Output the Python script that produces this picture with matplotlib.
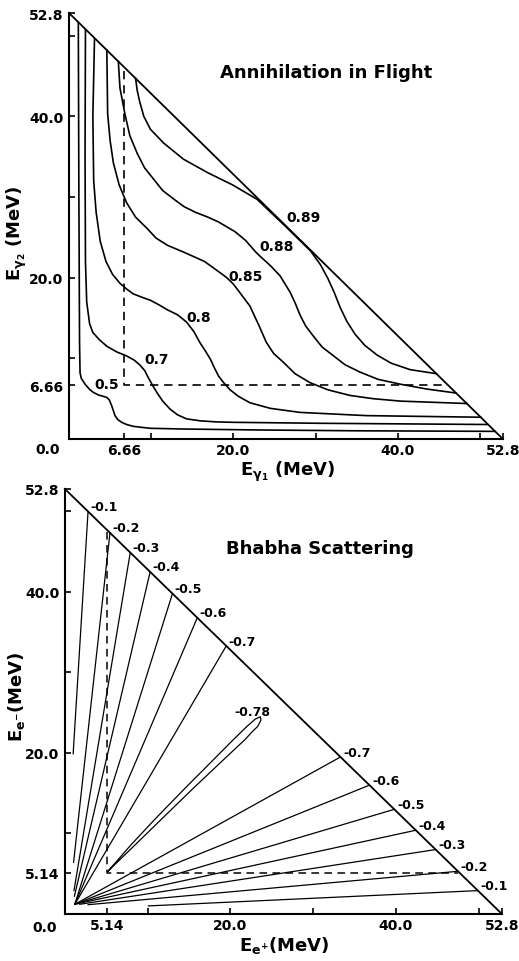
# Annihilation in flight / Bhabha scattering: energy-sharing triangles

import matplotlib.pyplot as plt

plt.rcParams['font.family'] = ['DejaVu Sans']
plt.rcParams['font.weight'] = 'bold'
plt.rcParams['mathtext.default'] = 'bf'

EMAX = 52.8  # MeV

# --- top panel: contours in (E_gamma1, E_gamma2), MeV
ann_labels = ['0.5', '0.7', '0.8', '0.85', '0.88', '0.89']
ann_x = [
    [1.13, 1.2, 1.28, 1.34, 1.5, 1.95, 2.5, 2.96, 3.6, 4.17, 4.6, 4.9, 5.19, 5.4, 5.6, 5.95,
     6.41, 7.0, 7.82, 9.85, 13.9, 23.2, 35.0, 51.8],
    [2.0, 1.95, 2.0, 2.15, 2.5, 2.9, 3.7, 4.6, 5.8, 7.0, 7.9, 8.6, 9.2, 9.7, 10.2, 10.67,
     11.4, 12.3, 13.2, 14.3, 16.0, 18.0, 20.0, 30.5, 50.9],
    [3.1, 2.9, 3.0, 3.3, 3.8, 4.5, 5.3, 6.2, 7.0, 7.8, 8.8, 9.9, 11.0, 12.0, 13.2, 14.3,
     15.2, 15.9, 16.6, 17.2, 17.7, 18.2, 18.8, 19.6, 20.6, 22.0, 24.5, 28.1, 36.2, 50.1],
    [4.6, 4.7, 5.0, 5.4, 6.1, 7.0, 8.1, 9.5, 10.6, 12.0, 14.1, 16.5, 18.4, 19.2, 20.0, 20.6,
     22.0, 23.1, 24.0, 24.9, 26.1, 27.5, 29.3, 31.5, 34.2, 37.0, 40.3, 48.4],
    [6.0, 6.2, 6.8, 7.4, 8.3, 9.2, 10.3, 11.4, 12.8, 14.0, 15.4, 16.9, 18.2, 20.2, 21.5,
     22.7, 23.2, 24.6, 25.7, 26.9, 27.5, 28.1, 28.8, 29.7, 30.8, 32.2, 33.6, 35.4, 37.6,
     40.3, 43.5, 47.1],
    [8.1, 8.3, 8.6, 9.1, 9.9, 11.5, 13.9, 16.9, 19.9, 22.9, 26.3, 29.4, 30.6, 31.5, 32.3,
     33.0, 33.8, 34.8, 36.0, 37.5, 39.2, 41.5, 44.7],
]
ann_y = [
    [51.6, 30.0, 12.0, 8.2, 7.5, 6.8, 6.15, 5.78, 5.45, 5.29, 5.15, 4.85, 4.13, 3.5, 2.89, 2.4,
     2.07, 1.8, 1.57, 1.33, 1.24, 1.12, 1.02, 0.95],
    [50.7, 35.0, 22.0, 17.0, 14.3, 13.2, 12.3, 11.5, 10.8, 10.3, 9.8, 9.2, 8.5, 7.5, 6.6, 5.8,
     4.7, 3.7, 3.0, 2.5, 2.25, 2.12, 2.07, 1.95, 1.8],
    [49.6, 40.0, 32.0, 28.1, 24.5, 22.0, 20.4, 19.3, 18.6, 18.0, 17.6, 17.2, 16.6, 16.0, 15.4,
     14.5, 13.3, 12.0, 10.9, 9.9, 8.8, 7.8, 7.0, 6.1, 5.3, 4.5, 3.8, 3.3, 2.9, 2.7],
    [48.2, 40.3, 37.0, 34.2, 31.5, 29.3, 27.5, 26.1, 24.9, 24.0, 23.1, 22.0, 20.6, 20.0, 19.2,
     18.4, 16.5, 14.1, 12.0, 10.6, 9.5, 8.1, 7.0, 6.1, 5.4, 5.0, 4.7, 4.4],
    [46.8, 43.5, 40.3, 37.6, 35.4, 33.6, 32.2, 30.8, 29.7, 28.8, 28.1, 27.5, 26.9, 25.7, 24.6,
     23.2, 22.7, 21.4, 20.2, 18.2, 16.9, 15.4, 14.0, 12.8, 11.4, 10.3, 9.2, 8.3, 7.4, 6.8,
     6.2, 5.7],
    [44.7, 43.2, 41.8, 40.0, 38.4, 36.7, 34.7, 33.0, 31.5, 29.7, 26.4, 23.3, 21.6, 19.9, 18.1,
     16.3, 14.6, 13.0, 11.6, 10.4, 9.4, 8.6, 8.1],
]
ann_lab_x = [4.6, 10.6, 15.8, 21.5, 25.2, 28.5]
ann_lab_y = [6.8, 9.9, 15.1, 20.2, 23.9, 27.5]
ann_cut = 6.66
ann_ticks = [6.66, 10, 20, 30, 40, 50, 52.8]
ann_ticklabels = ['6.66', '', '20.0', '', '40.0', '', '52.8']

# --- bottom panel: Bhabha lines, MeV
bha_labels = ['-0.1', '-0.2', '-0.3', '-0.4', '-0.5', '-0.6', '-0.7']
left_top_x = [2.8, 5.45, 7.9, 10.3, 13.0, 16.0, 19.5]
left_top_y = [50.0, 47.35, 44.9, 42.5, 39.8, 36.8, 33.3]
left_low_x = [1.0, 1.05, 1.1, 1.15, 1.2, 1.2, 1.2]
left_low_y = [19.9, 6.4, 2.9, 2.2, 1.2, 1.2, 1.2]
right_end_x = [49.9, 47.5, 44.8, 42.4, 39.8, 36.8, 33.3]
right_end_y = [2.9, 5.3, 8.0, 10.4, 13.0, 16.0, 19.5]
right_low_x = [10.1, 2.8, 1.8, 1.2, 1.2, 1.2, 1.2]
right_low_y = [1.0, 1.15, 1.2, 1.2, 1.2, 1.2, 1.2]
loop_x = [5.2, 8.0, 11.0, 14.5, 17.5, 20.4, 22.0, 23.0, 23.6, 23.7, 23.3, 22.6, 21.8, 19.0,
          15.5, 12.0, 8.5, 5.2]
loop_y = [5.3, 8.6, 11.9, 15.6, 18.7, 21.7, 23.3, 24.2, 24.5, 24.1, 23.3, 22.6, 21.7, 19.0,
          15.6, 12.1, 8.6, 5.3]
bha_cut = 5.14
bha_ticks = [5.14, 10, 20, 30, 40, 50, 52.8]
bha_ticklabels = ['5.14', '', '20.0', '', '40.0', '', '52.8']


def frame(ax, ticks, ticklabels):
    ax.set_xlim(0, EMAX)
    ax.set_ylim(0, EMAX)
    ax.patch.set_alpha(0)
    for s in ('top', 'right'):
        ax.spines[s].set_visible(False)
    for s in ('left', 'bottom'):
        ax.spines[s].set_linewidth(1.5)
    ax.plot([0, EMAX], [EMAX, 0], color='black', lw=1.3, clip_on=False)
    ax.set_xticks(ticks, ticklabels)
    ax.set_yticks(ticks, ticklabels)
    ax.tick_params(direction='in', length=4, width=1.2, labelsize=10)
    ax.tick_params(axis='x', pad=3)
    ax.tick_params(axis='y', pad=4)


fig = plt.figure(figsize=(5.19, 9.62), dpi=100)

# top: annihilation in flight
ax1 = fig.add_axes([0.133, 0.5426, 0.836, 0.4428])
frame(ax1, ann_ticks, ann_ticklabels)
for xs, ys in zip(ann_x, ann_y):
    ax1.plot(xs, ys, color='black', lw=1.2)
for lab, lx, ly in zip(ann_labels, ann_lab_x, ann_lab_y):
    ax1.text(lx, ly, lab, fontsize=10, ha='center', va='center')
ax1.plot([ann_cut, ann_cut, 45.5], [45.6, ann_cut, ann_cut], color='black', lw=1.2,
         ls=(0, (5, 3.5)))
ax1.text(31.3, 45.5, 'Annihilation in Flight', fontsize=13, ha='center', va='center')
ax1.text(-2.6, -1.2, '0.0', fontsize=10, ha='center', va='center', clip_on=False)
fig.text(288 / 519, 1 - 472 / 962, r'E$_{\gamma_1}$ (MeV)', fontsize=13,
         ha='center', va='center')
fig.text(17 / 519, 1 - 233 / 962, r'E$_{\gamma_2}$ (MeV)', fontsize=13,
         ha='center', va='center', rotation=90)

# bottom: Bhabha scattering
ax2 = fig.add_axes([0.125, 0.0489, 0.842, 0.4418])
frame(ax2, bha_ticks, bha_ticklabels)
for i, lab in enumerate(bha_labels):
    ax2.plot([left_top_x[i], left_low_x[i]], [left_top_y[i], left_low_y[i]],
             color='black', lw=0.9)
    ax2.plot([right_end_x[i], right_low_x[i]], [right_end_y[i], right_low_y[i]],
             color='black', lw=0.9)
    ax2.annotate(lab, (left_top_x[i], left_top_y[i]), xytext=(1.5, 3.5),
                 textcoords='offset points', fontsize=9, ha='left', va='center')
    ax2.annotate(lab, (right_end_x[i], right_end_y[i]), xytext=(2, 3.5),
                 textcoords='offset points', fontsize=9, ha='left', va='center')
ax2.plot(loop_x, loop_y, color='black', lw=0.9)
ax2.text(22.7, 25.2, '-0.78', fontsize=9, ha='center', va='center')
ax2.plot([bha_cut, bha_cut, 47.5], [47.5, bha_cut, bha_cut], color='black', lw=1.1,
         ls=(0, (5, 3.5)))
ax2.text(30.8, 45.5, 'Bhabha Scattering', fontsize=13, ha='center', va='center')
ax2.text(-2.4, -1.6, '0.0', fontsize=10, ha='center', va='center', clip_on=False)
fig.text(284 / 519, 1 - 946 / 962, r'E$_{e^{+}}$(MeV)', fontsize=13,
         ha='center', va='center')
fig.text(17 / 519, 1 - 697 / 962, r'E$_{e^{-}}$(MeV)', fontsize=13,
         ha='center', va='center', rotation=90)

fig.savefig('out.png', dpi=100)
